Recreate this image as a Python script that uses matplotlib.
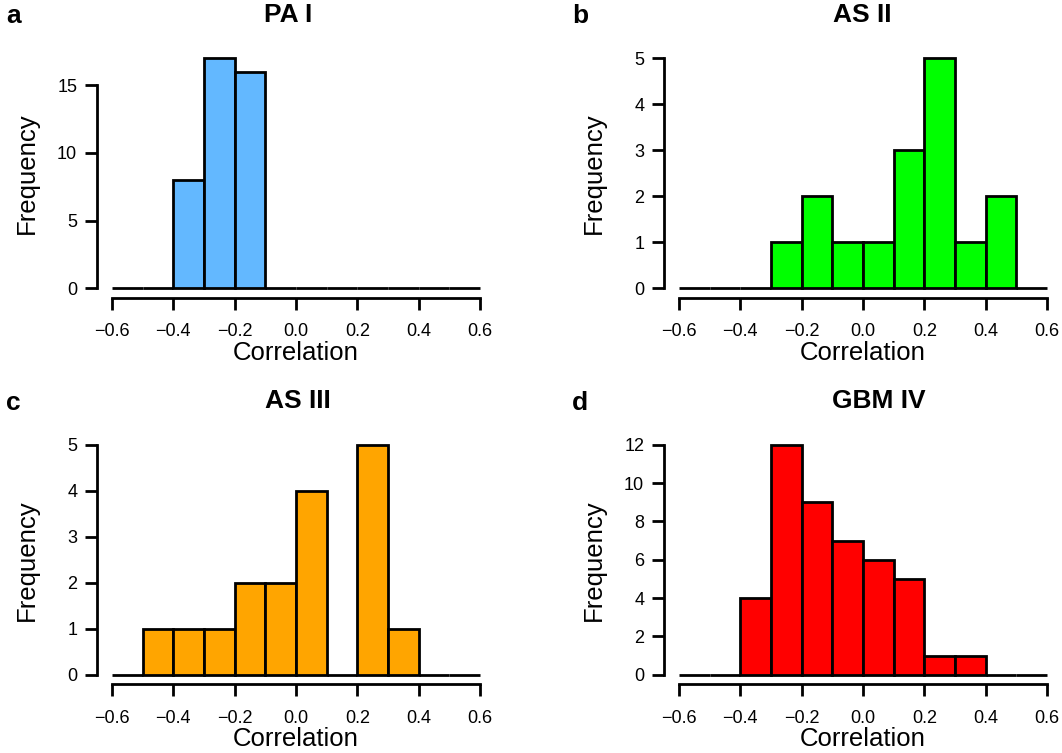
import matplotlib

matplotlib.use("Agg")
import matplotlib.pyplot as plt
import numpy as np

plt.rcParams["font.family"] = ["Liberation Sans", "DejaVu Sans"]

# histogram bins: -0.6 .. 0.6, width 0.1
bin_left = [-0.6, -0.5, -0.4, -0.3, -0.2, -0.1, 0.0, 0.1, 0.2, 0.3, 0.4, 0.5]
bin_width = 0.1

titles = ["PA I", "AS II", "AS III", "GBM IV"]
letters = ["a", "b", "c", "d"]
colors = ["#63B8FF", "#00FF00", "#FFA500", "#FF0000"]

counts_pa1 = [0, 0, 8, 17, 16, 0, 0, 0, 0, 0, 0, 0]
counts_as2 = [0, 0, 0, 1, 2, 1, 1, 3, 5, 1, 2, 0]
counts_as3 = [0, 1, 1, 1, 2, 2, 4, 0, 5, 1, 0, 0]
counts_gbm4 = [0, 0, 4, 12, 9, 7, 6, 5, 1, 1, 0, 0]
all_counts = [counts_pa1, counts_as2, counts_as3, counts_gbm4]

yticks = [[0, 5, 10, 15], [0, 1, 2, 3, 4, 5], [0, 1, 2, 3, 4, 5], [0, 2, 4, 6, 8, 10, 12]]
xticks = [-0.6, -0.4, -0.2, 0.0, 0.2, 0.4, 0.6]

W, H = 1062, 753
fig = plt.figure(figsize=(W / 100, H / 100), dpi=100)

# axes boxes in pixels: left, top, width, height
boxes = [(97.3, 49, 397.4, 248.5), (664.3, 49, 397.4, 248.5),
         (97.3, 435.5, 397.4, 248.5), (664.3, 435.5, 397.4, 248.5)]
# title centre x (pixels), as placed in the original
title_x = [288, 862, 298, 879]

lw = 2.0
for i, (l, t, w, h) in enumerate(boxes):
    ax = fig.add_axes([l / W, (H - t - h) / H, w / W, h / H])
    counts = all_counts[i]
    ymax = max(counts)
    ax.bar(bin_left, counts, width=bin_width, align="edge", color=colors[i],
           edgecolor="black", linewidth=lw, clip_on=False)
    ax.set_xlim(-0.6 - 0.048, 0.6 + 0.048)
    ax.set_ylim(-0.04 * ymax, 1.04 * ymax)
    for s in ("top", "right"):
        ax.spines[s].set_visible(False)
    for s in ("left", "bottom"):
        ax.spines[s].set_linewidth(lw)
    ax.spines["left"].set_bounds(yticks[i][0], yticks[i][-1])
    ax.spines["bottom"].set_bounds(-0.6, 0.6)
    ax.set_xticks(xticks)
    ax.set_xticklabels([f"{v:.1f}".replace("-", "\u2212") for v in xticks])
    ax.set_yticks(yticks[i])
    ax.tick_params(width=lw, length=8.5, labelsize=13, pad=6)
    ax.tick_params(axis="x", pad=10)
    ax.set_xlabel("Correlation", fontsize=18.5)
    ax.xaxis.set_label_coords(0.5, -0.175)
    ax.set_ylabel("Frequency", fontsize=18.5)
    ax.yaxis.set_label_coords(-0.148, 0.5)
    fig.text(title_x[i] / W, 1 - (t - 34) / H, titles[i], ha="center",
             va="center", fontsize=19, fontweight="bold")
    fig.text((l - 84) / W, 1 - (t - 33) / H, letters[i], ha="center", va="center",
             fontsize=19, fontweight="bold")

fig.savefig("out.png", dpi=100)
